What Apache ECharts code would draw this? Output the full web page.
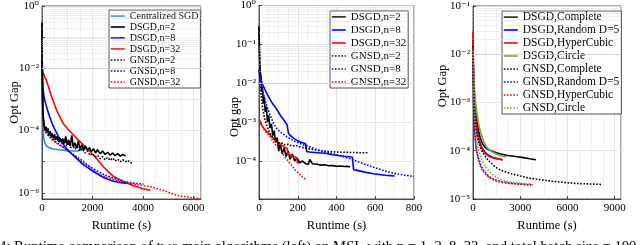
<!DOCTYPE html>
<html><head><meta charset="utf-8">
<script src="https://cdn.jsdelivr.net/npm/echarts@6.0.0/dist/echarts.min.js"></script>
<style>html,body{margin:0;padding:0;background:#fff;overflow:hidden}#c{width:640px;height:245px}</style>
</head><body><div id="c"></div>
<script>
// ---------- LEFT PANEL (runtime, n = 2/8/32) ----------
const L_csgdX = [0, 15, 30, 45, 60, 80, 110, 160, 250, 400, 650, 900, 1150, 1400, 1550, 1620, 1680, 1720];
const L_csgdY = [2e-3, 8e-4, 3e-4, 1.3e-4, 7e-5, 5e-5, 4e-5, 3.3e-5, 2.9e-5, 2.6e-5, 2.4e-5, 2.3e-5, 2.2e-5, 2.2e-5, 2.4e-5, 2.8e-5, 2.6e-5, 2.4e-5];
const L_d2X = [0, 8, 20, 35, 55, 80, 110, 140, 170, 200, 240, 280, 320, 360, 400, 450, 500, 550, 600, 650, 700, 760, 820, 880, 940, 1000, 1060, 1120, 1180, 1240, 1300, 1370, 1440, 1510, 1580, 1650, 1720, 1800, 1880, 1960, 2040, 2120, 2200, 2300, 2400, 2500, 2600, 2700, 2800, 2900, 3000, 3100, 3200, 3320];
const L_d2Y = [0.3, 2e-2, 2e-3, 4e-4, 2.2e-4, 1.5e-4, 1.6e-4, 1.0e-4, 1.3e-4, 9e-5, 1.1e-4, 7e-5, 9.5e-5, 6.5e-5, 8e-5, 5.5e-5, 7.5e-5, 5e-5, 6.5e-5, 4.5e-5, 6e-5, 4.2e-5, 5.5e-5, 3.8e-5, 6.5e-5, 3.5e-5, 5e-5, 3.2e-5, 7e-5, 3e-5, 4e-5, 2.8e-5, 4.5e-5, 2.6e-5, 3.5e-5, 2.4e-5, 3.2e-5, 2.3e-5, 2.8e-5, 2.1e-5, 2.6e-5, 1.9e-5, 2.4e-5, 1.8e-5, 2.2e-5, 1.7e-5, 2e-5, 1.6e-5, 1.9e-5, 1.55e-5, 1.8e-5, 1.5e-5, 1.7e-5, 1.5e-5];
const L_d8X = [0, 10, 30, 60, 100, 150, 220, 300, 400, 500, 650, 800, 1000, 1200, 1400, 1600, 1800, 2000, 2200, 2400, 2600, 2800, 3000, 3200, 3350];
const L_d8Y = [2e-2, 8e-3, 3e-3, 1.6e-3, 1e-3, 7e-4, 4.5e-4, 2.8e-4, 1.7e-4, 1.1e-4, 6.5e-5, 4e-5, 2.5e-5, 1.7e-5, 1.2e-5, 8.5e-6, 6.5e-6, 5e-6, 4e-6, 3.2e-6, 2.7e-6, 2.4e-6, 2.2e-6, 2.05e-6, 2e-6];
const L_d32X = [0, 50, 100, 180, 370, 570, 835, 1030, 1230, 1430, 1630, 1830, 2020, 2220, 2420, 2620, 2820, 3020, 3220, 3600, 4000, 4300];
const L_d32Y = [1e-2, 7e-3, 5.5e-3, 4e-3, 1.3e-3, 4.7e-4, 1.7e-4, 1.1e-4, 7.4e-5, 5e-5, 3.5e-5, 2.4e-5, 1.7e-5, 1.1e-5, 7e-6, 4.8e-6, 3.4e-6, 2.8e-6, 2.3e-6, 1.7e-6, 1.35e-6, 1.2e-6];
const L_g2X = [0, 10, 25, 45, 70, 100, 140, 180, 230, 280, 330, 390, 450, 520, 590, 660, 740, 820, 900, 980, 1060, 1140, 1220, 1300, 1400, 1500, 1600, 1700, 1800, 1900, 2000, 2100, 2200, 2300, 2400, 2500, 2600, 2700, 2800, 2900, 3000, 3100, 3200, 3300, 3400, 3480, 3570];
const L_g2Y = [0.25, 1.5e-2, 1.5e-3, 3.5e-4, 2e-4, 1.3e-4, 1.5e-4, 9e-5, 1.2e-4, 7.5e-5, 9e-5, 6e-5, 7.5e-5, 5e-5, 6e-5, 4.2e-5, 5.2e-5, 3.6e-5, 4.5e-5, 3.2e-5, 4e-5, 2.8e-5, 3.5e-5, 2.5e-5, 3e-5, 2.2e-5, 2.6e-5, 1.9e-5, 2.2e-5, 1.6e-5, 1.8e-5, 1.4e-5, 1.6e-5, 1.25e-5, 1.45e-5, 1.15e-5, 1.35e-5, 1.1e-5, 1.3e-5, 1.05e-5, 1.2e-5, 1.0e-5, 1.15e-5, 1.0e-5, 1.1e-5, 9.5e-6, 9e-6];
const L_g8X = [0, 10, 25, 45, 70, 100, 150, 220, 300, 400, 550, 700, 900, 1100, 1300, 1500, 1700, 1900, 2100, 2300, 2500, 2700, 2900, 3100, 3300, 3500, 3700, 3850, 4020];
const L_g8Y = [2e-2, 3e-3, 8e-4, 3.5e-4, 2e-4, 1.4e-4, 1e-4, 7.5e-5, 6.5e-5, 5.5e-5, 4.3e-5, 3.5e-5, 2.7e-5, 2e-5, 1.5e-5, 1.1e-5, 8.5e-6, 6.8e-6, 5.5e-6, 4.5e-6, 3.7e-6, 3.2e-6, 2.8e-6, 2.5e-6, 2.25e-6, 2.1e-6, 2e-6, 1.95e-6, 1.9e-6];
const L_g32X = [0, 20, 40, 55, 100, 200, 400, 600, 800, 1000, 1200, 1400, 1600, 1800, 2000, 2200, 2400, 2700, 3000, 3400, 3800, 4300, 4800, 5200, 5500, 5900, 6300];
const L_g32Y = [1e-2, 1e-3, 3e-4, 1.5e-4, 1e-4, 7.5e-5, 5e-5, 3.8e-5, 3e-5, 2.3e-5, 1.8e-5, 1.4e-5, 1.1e-5, 8e-6, 5.8e-6, 4.2e-6, 3.5e-6, 2.9e-6, 2.4e-6, 2.05e-6, 1.8e-6, 1.55e-6, 1.2e-6, 9e-7, 7.8e-7, 7e-7, 6.4e-7];

// ---------- MIDDLE PANEL ----------
const M_d2X = [0, 3, 6, 10, 14, 18, 22, 27, 32, 38, 44, 50, 57, 64, 71, 78, 86, 94, 102, 110, 120, 130, 140, 150, 160, 172, 184, 196, 210, 225, 240, 255, 262, 268, 275, 285, 300, 320, 340, 360, 380, 400, 420, 440, 455, 470];
const M_d2Y = [0.28, 0.05, 0.02, 1.5e-2, 6e-3, 8e-3, 3e-3, 4.5e-3, 1.8e-3, 2.5e-3, 1e-3, 1.5e-3, 7e-4, 9e-4, 4.5e-4, 6e-4, 3e-4, 4e-4, 1.8e-4, 2.8e-4, 1.5e-4, 2.2e-4, 1.3e-4, 1.8e-4, 1.1e-4, 1.5e-4, 1e-4, 1.2e-4, 9e-5, 1e-4, 8.5e-5, 8.2e-5, 1.1e-4, 1.05e-4, 8.5e-5, 8e-5, 8.2e-5, 7.8e-5, 8e-5, 7.5e-5, 7.6e-5, 7.3e-5, 7.4e-5, 7.2e-5, 7.3e-5, 7e-5];
const M_d8X = [0, 5, 12, 20, 30, 40, 55, 70, 90, 110, 130, 145, 152, 160, 180, 200, 220, 240, 246, 260, 290, 320, 350, 380, 410, 440, 470, 482, 488, 500, 530, 560, 590, 620, 650, 680, 700];
const M_d8Y = [2.2e-2, 1.6e-2, 1.2e-2, 9e-3, 7e-3, 5.5e-3, 4e-3, 3e-3, 2.2e-3, 1.5e-3, 1.1e-3, 8.5e-4, 5.2e-4, 4.6e-4, 3.8e-4, 3.3e-4, 3e-4, 2.8e-4, 1.75e-4, 1.7e-4, 1.65e-4, 1.6e-4, 1.55e-4, 1.45e-4, 1.38e-4, 1.32e-4, 1.28e-4, 1.25e-4, 6e-5, 5.8e-5, 5.4e-5, 5e-5, 4.7e-5, 4.5e-5, 4.3e-5, 4.2e-5, 4.1e-5];
const M_d32X = [0, 10, 20, 30, 40, 55, 70, 85, 100, 115, 130, 145, 150, 165, 180, 195, 198, 205];
const M_d32Y = [1.2e-3, 9e-4, 7.5e-4, 6.5e-4, 5.8e-4, 4.8e-4, 4e-4, 3.4e-4, 3e-4, 2.6e-4, 2.3e-4, 2.1e-4, 1.5e-4, 1.4e-4, 1.3e-4, 1.2e-4, 9e-5, 8.5e-5];
const M_g2X = [0, 4, 8, 13, 18, 24, 30, 37, 45, 54, 64, 75, 87, 100, 115, 130, 150, 170, 190, 210, 230, 250, 275, 300, 330, 360, 400, 440, 480, 520, 560];
const M_g2Y = [0.3, 0.03, 8e-3, 4e-3, 2.5e-3, 1.6e-3, 1.2e-3, 9e-4, 7e-4, 5.5e-4, 4.5e-4, 3.8e-4, 3.3e-4, 2.9e-4, 3e-4, 2.6e-4, 2.7e-4, 2.4e-4, 2.5e-4, 2.3e-4, 2.2e-4, 2.1e-4, 2e-4, 1.9e-4, 1.8e-4, 1.75e-4, 1.7e-4, 1.67e-4, 1.65e-4, 1.63e-4, 1.62e-4];
const M_g8X = [0, 5, 12, 20, 31, 45, 60, 74, 90, 110, 143, 180, 220, 263, 300, 350, 400, 435, 480, 530, 580, 607, 650, 700, 750, 800];
const M_g8Y = [2.2e-2, 1.4e-2, 9e-3, 6e-3, 3.7e-3, 2.2e-3, 1.4e-3, 9.3e-4, 7e-4, 5.5e-4, 4.2e-4, 3.3e-4, 2.7e-4, 2.3e-4, 1.95e-4, 1.65e-4, 1.45e-4, 1.3e-4, 1.1e-4, 8.8e-5, 7.2e-5, 6.5e-5, 5.5e-5, 4.8e-5, 4.3e-5, 4e-5];
const M_g32X = [0, 15, 30, 57, 80, 108, 135, 160, 185, 212, 230, 246];
const M_g32Y = [1.1e-3, 8e-4, 6e-4, 4.2e-4, 2.8e-4, 1.9e-4, 1.25e-4, 8.7e-5, 6e-5, 4.4e-5, 3.7e-5, 3.2e-5];

// ---------- RIGHT PANEL (topologies) ----------
const R_dCompX = [0, 30, 70, 120, 180, 260, 350, 450, 600, 800, 1000, 1300, 1700, 2200, 2700, 3200, 3600, 4000];
const R_dCompY = [2e-2, 5e-3, 2e-3, 1e-3, 6e-4, 3.8e-4, 2.6e-4, 1.9e-4, 1.4e-4, 1.15e-4, 1.05e-4, 9.5e-5, 8.7e-5, 8e-5, 7.6e-5, 7.2e-5, 6.8e-5, 6.5e-5];
const R_dRandX = [0, 30, 70, 120, 180, 260, 350, 450, 600, 800, 1000, 1300, 1600, 1900];
const R_dRandY = [1e-2, 3e-3, 1.3e-3, 7e-4, 4.2e-4, 2.7e-4, 1.9e-4, 1.45e-4, 1.1e-4, 9e-5, 8e-5, 7.2e-5, 6.8e-5, 6.5e-5];
const R_dHypX = [0, 25, 60, 110, 170, 250, 340, 450, 600, 800, 1000, 1300, 1600, 1900];
const R_dHypY = [3e-2, 4e-3, 1.5e-3, 7.5e-4, 4.4e-4, 2.8e-4, 1.9e-4, 1.4e-4, 1.05e-4, 8.6e-5, 7.7e-5, 7.1e-5, 6.7e-5, 6.5e-5];
const R_dCircX = [0, 40, 90, 150, 220, 300, 400, 520, 700, 900, 1200, 1500, 1800, 2100];
const R_dCircY = [1e-2, 4e-3, 2e-3, 1.1e-3, 7e-4, 4.6e-4, 3.1e-4, 2.2e-4, 1.5e-4, 1.15e-4, 9.5e-5, 8.5e-5, 7.8e-5, 7.4e-5];
const R_gCompX = [0, 30, 70, 120, 180, 260, 350, 450, 600, 800, 1000, 1300, 1600, 2000, 2500, 3000, 3600, 4300, 5000, 5800, 6600, 7400, 8200];
const R_gCompY = [1.5e-2, 3e-3, 1e-3, 5e-4, 3e-4, 2e-4, 1.5e-4, 1.2e-4, 9.5e-5, 7.5e-5, 6.2e-5, 5e-5, 4.2e-5, 3.7e-5, 3.3e-5, 3e-5, 2.7e-5, 2.5e-5, 2.35e-5, 2.2e-5, 2.1e-5, 2.05e-5, 2e-5];
const R_gRandX = [0, 20, 50, 90, 140, 200, 280, 380, 500, 650, 850, 1100, 1400, 1800, 2300, 2800, 3300, 3750];
const R_gRandY = [8e-3, 1.5e-3, 6e-4, 3e-4, 1.8e-4, 1.2e-4, 8.5e-5, 6.5e-5, 5e-5, 4e-5, 3.3e-5, 2.8e-5, 2.5e-5, 2.3e-5, 2.15e-5, 2.05e-5, 2e-5, 1.95e-5];
const R_gHypX = [0, 20, 50, 90, 140, 200, 280, 380, 500, 650, 850, 1100, 1400, 1800, 2300, 2800, 3300, 3700];
const R_gHypY = [2.5e-2, 2e-3, 6.5e-4, 3e-4, 1.7e-4, 1.1e-4, 7.8e-5, 5.8e-5, 4.6e-5, 3.7e-5, 3.1e-5, 2.7e-5, 2.4e-5, 2.2e-5, 2.1e-5, 2.05e-5, 2e-5, 2e-5];
const R_gCircX = [0, 30, 70, 120, 180, 250, 340, 450, 600, 800, 1000, 1300, 1700, 2100, 2600, 3100, 3500, 3850];
const R_gCircY = [1.2e-2, 2.5e-3, 9e-4, 4.5e-4, 2.6e-4, 1.6e-4, 1.1e-4, 8e-5, 6e-5, 4.6e-5, 3.8e-5, 3.1e-5, 2.6e-5, 2.35e-5, 2.2e-5, 2.1e-5, 2.05e-5, 2e-5];

// ---------- names / texts ----------
const leftNames = ['Centralized SGD', 'DSGD,n=2', 'DSGD,n=8', 'DSGD,n=32', 'GNSD,n=2', 'GNSD,n=8', 'GNSD,n=32'];
const midNames = ['DSGD,n=2', 'DSGD,n=8', 'DSGD,n=32', 'GNSD,n=2', 'GNSD,n=8', 'GNSD,n=32'];
const rightNames = ['DSGD,Complete', 'DSGD,Random D=5', 'DSGD,HyperCubic', 'DSGD,Circle', 'GNSD,Complete', 'GNSD,Random D=5', 'GNSD,HyperCubic', 'GNSD,Circle'];
const xTitle = 'Runtime (s)';
const yTitles = ['Opt Gap', 'Opt gap', 'Opt Gap'];
const caption = '4: Runtime comparison of two main algorithms (left) on MSL with n = 1, 2, 8, 32, and total batch size = 100';

const FONT = '"Liberation Serif", "DejaVu Serif", serif';
const AX = '#262626';
const SUP = {'-': '\u207B', '0': '\u2070', '1': '\u00B9', '2': '\u00B2', '3': '\u00B3', '4': '\u2074', '5': '\u2075', '6': '\u2076', '7': '\u2077', '8': '\u2078', '9': '\u2079'};
function supStr(n) { return String(n).split('').map(c => SUP[c]).join(''); }
function logFmt(step) {
  return function (v) {
    const e = Math.log10(v), r = Math.round(e);
    if (Math.abs(e - r) > 1e-6) return '';
    if (step === 2 && r % 2 !== 0) return '';
    return '10' + supStr(r);
  };
}
function minorVals(lo, hi) {
  const out = [];
  for (let e = Math.floor(Math.log10(lo)); e <= Math.ceil(Math.log10(hi)); e++) {
    for (let m = 2; m <= 9; m++) { const v = m * Math.pow(10, e); if (v > lo * 1.001 && v < hi * 0.999) out.push(v); }
  }
  return out;
}
// series names carry a panel suffix ("|L", "|M", "|R") so each legend finds its own series
function S(name, panel, xs, ys, color, dotted, gi) {
  return {
    type: 'line', name: name + '|' + panel, xAxisIndex: gi, yAxisIndex: gi,
    data: xs.map((x, i) => [x, ys[i]]),
    symbol: 'none', showSymbol: false, silent: true, animation: false, z: 3,
    lineStyle: { color: color, width: 1.6, type: dotted ? 'dotted' : 'solid' },
    itemStyle: { color: color, opacity: 0 }
  };
}
function minorSeries(gi, lo, hi) {
  return {
    type: 'line', name: 'minor' + gi, xAxisIndex: gi, yAxisIndex: gi, data: [], silent: true, z: 1, animation: false,
    markLine: { silent: true, symbol: 'none', animation: false, label: { show: false },
      lineStyle: { color: '#d2d2d2', type: 'dotted', width: 0.7 },
      emphasis: { disabled: true },
      data: minorVals(lo, hi).map(v => ({ yAxis: v })) }
  };
}
const yLims = [[6.3e-7, 1], [1.05e-5, 1], [1e-5, 0.1]];
const xLims = [[0, 6300, 2000], [0, 800, 200], [0, 9400, 3000]];
const grids = [
  { left: 42, top: 6, width: 159, height: 193 },
  { left: 259, top: 5, width: 155, height: 194 },
  { left: 473, top: 6, width: 148, height: 193 }
];
const yNamePos = [[15, 102.5], [235, 117], [443, 86]];
const labelStep = [2, 1, 1];

const BLUE = '#0000ff', RED = '#ff0000', BLACK = '#000000', GREEN = '#77ac30', CSGD = '#2b8dd0';

const series = [
  minorSeries(0, yLims[0][0], yLims[0][1]),
  minorSeries(1, yLims[1][0], yLims[1][1]),
  minorSeries(2, yLims[2][0], yLims[2][1]),
  S('Centralized SGD', 'L', L_csgdX, L_csgdY, CSGD, false, 0),
  S('DSGD,n=32', 'L', L_d32X, L_d32Y, RED, false, 0),
  S('GNSD,n=32', 'L', L_g32X, L_g32Y, RED, true, 0),
  S('DSGD,n=8', 'L', L_d8X, L_d8Y, BLUE, false, 0),
  S('GNSD,n=8', 'L', L_g8X, L_g8Y, BLUE, true, 0),
  S('GNSD,n=2', 'L', L_g2X, L_g2Y, BLACK, true, 0),
  S('DSGD,n=2', 'L', L_d2X, L_d2Y, BLACK, false, 0),
  S('DSGD,n=2', 'M', M_d2X, M_d2Y, BLACK, false, 1),
  S('DSGD,n=8', 'M', M_d8X, M_d8Y, BLUE, false, 1),
  S('DSGD,n=32', 'M', M_d32X, M_d32Y, RED, false, 1),
  S('GNSD,n=2', 'M', M_g2X, M_g2Y, BLACK, true, 1),
  S('GNSD,n=8', 'M', M_g8X, M_g8Y, BLUE, true, 1),
  S('GNSD,n=32', 'M', M_g32X, M_g32Y, RED, true, 1),
  S('DSGD,Complete', 'R', R_dCompX, R_dCompY, BLACK, false, 2),
  S('DSGD,Random D=5', 'R', R_dRandX, R_dRandY, BLUE, false, 2),
  S('DSGD,HyperCubic', 'R', R_dHypX, R_dHypY, RED, false, 2),
  S('DSGD,Circle', 'R', R_dCircX, R_dCircY, GREEN, false, 2),
  S('GNSD,Complete', 'R', R_gCompX, R_gCompY, BLACK, true, 2),
  S('GNSD,Random D=5', 'R', R_gRandX, R_gRandY, BLUE, true, 2),
  S('GNSD,HyperCubic', 'R', R_gHypX, R_gHypY, RED, true, 2),
  S('GNSD,Circle', 'R', R_gCircX, R_gCircY, GREEN, true, 2)
];

const xAxes = xLims.map((l, i) => ({
  type: 'value', gridIndex: i, min: l[0], max: l[1], interval: l[2],
  name: xTitle, nameLocation: 'middle', nameGap: 14,
  nameTextStyle: { fontFamily: FONT, fontSize: 12.5, color: '#000' },
  axisLine: { show: true, lineStyle: { color: AX, width: 0.8 } },
  axisTick: { show: true, inside: true, length: 3, lineStyle: { color: AX, width: 0.8 } },
  axisLabel: { fontFamily: FONT, fontSize: 11, color: '#000', margin: 4, showMaxLabel: i === 1,
    formatter: v => String(Math.round(v)) },
  splitLine: { show: true, lineStyle: { color: '#e2e2e2', width: 0.8 } },
  minorTick: { show: false, splitNumber: 4 },
  minorSplitLine: { show: true, lineStyle: { color: '#d8d8d8', type: 'dotted', width: 0.7 } }
}));
const yAxes = yLims.map((l, i) => ({
  type: 'log', logBase: 10, gridIndex: i, min: l[0], max: l[1],
  axisLine: { show: true, lineStyle: { color: AX, width: 0.8 } },
  axisTick: { show: true, inside: true, length: 3, lineStyle: { color: AX, width: 0.8 } },
  axisLabel: { fontFamily: FONT, fontSize: 11, color: '#000', margin: 3, formatter: logFmt(labelStep[i]) },
  splitLine: { show: true, lineStyle: { color: '#e2e2e2', width: 0.8 } }
}));
function legendCfg(names, panel, left, top, fs, ih, pad) {
  return {
    data: names.map(n => n + '|' + panel), orient: 'vertical', left: left, top: top, selectedMode: false,
    formatter: n => n.split('|')[0],
    itemWidth: 14, itemHeight: ih, itemGap: 1, padding: [pad, 2, pad, 1],
    itemStyle: { opacity: 0 },
    lineStyle: { width: 1.6 },
    backgroundColor: '#fff', borderColor: AX, borderWidth: 0.8,
    textStyle: { fontFamily: FONT, fontSize: fs, color: '#000', lineHeight: ih }
  };
}
const graphics = yTitles.map((t, i) => ({
  type: 'text', x: yNamePos[i][0], y: yNamePos[i][1], rotation: Math.PI / 2, silent: true,
  style: { text: t, font: '12.5px ' + FONT, fill: '#000', align: 'center', verticalAlign: 'middle' }
}));
graphics.push({ type: 'text', left: -1, top: 240, silent: true,
  style: { text: caption, font: '14.7px ' + FONT, fill: '#000' } });

const option = {
  animation: false,
  backgroundColor: '#fff',
  grid: grids.map(g => Object.assign({ show: true, borderColor: AX, borderWidth: 0.8, backgroundColor: '#fff' }, g)),
  xAxis: xAxes,
  yAxis: yAxes,
  legend: [
    legendCfg(leftNames, 'L', 109, 10, 10, 10, 1),
    legendCfg(midNames, 'M', 330, 11, 11, 12, 0),
    legendCfg(rightNames, 'R', 502, 11, 11.5, 12, 0)
  ],
  graphic: graphics,
  series: series
};
const chart = echarts.init(document.getElementById('c'), null, { renderer: 'canvas' });
chart.setOption(option);
</script></body></html>
